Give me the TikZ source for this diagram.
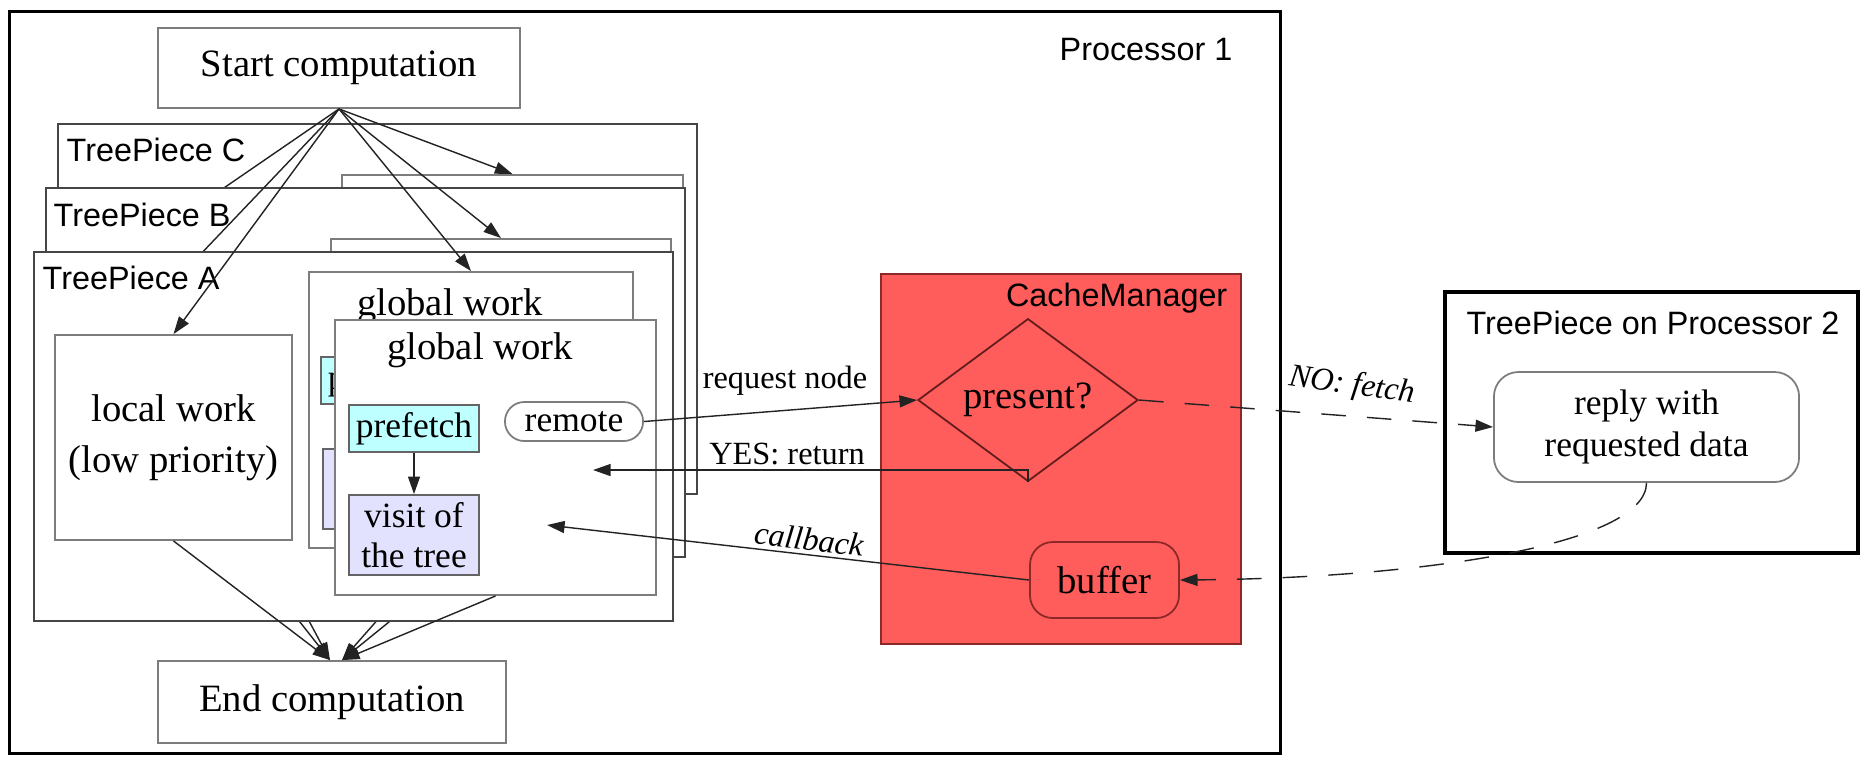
\documentclass[tikz,border=0pt]{standalone}
\usepackage{fontspec}
\setmainfont{Liberation Serif}
\newfontfamily\labelsans{Liberation Sans}
\usetikzlibrary{arrows.meta,shapes.geometric,calc}
\definecolor{cmred}{RGB}{255,92,92}
\definecolor{cmborder}{RGB}{140,40,40}
\definecolor{prefill}{RGB}{190,255,255}
\definecolor{visitfill}{RGB}{226,226,255}
\definecolor{boxgray}{RGB}{125,125,125}
\definecolor{tpgray}{RGB}{70,70,70}
\definecolor{linegray}{RGB}{35,35,35}
\begin{document}
\begin{tikzpicture}[x=0.01cm,y=-0.01cm,
  sz/.style 2 args={minimum width=#1cm, minimum height=#2cm},
  plainbox/.style={draw=boxgray, line width=0.5pt, fill=white, inner sep=0pt},
  tpbox/.style={draw=tpgray, line width=0.65pt, fill=white, inner sep=0pt},
  procbox/.style={draw=black, line width=0.95pt, inner sep=0pt},
  prefetchbox/.style={draw=boxgray!80!black, line width=0.5pt, fill=prefill, inner sep=0pt},
  visitbox/.style={draw=boxgray!80!black, line width=0.5pt, fill=visitfill, inner sep=0pt},
  remotebox/.style={draw=boxgray, line width=0.5pt, fill=white, inner sep=0pt, rounded corners=5.5pt},
  replybox/.style={draw=boxgray, line width=0.5pt, fill=white, inner sep=0pt, rounded corners=7pt},
  bufferbox/.style={draw=cmborder, line width=0.5pt, inner sep=0pt, rounded corners=6.5pt},
  conn/.style={draw=linegray, line width=0.4pt, -{Triangle[length=5pt,width=3.4pt]}},
  dashconn/.style={conn, dash pattern=on 7pt off 6pt},
  sanslabel/.style={font=\labelsans\fontsize{9.2}{11}\selectfont, inner sep=0pt},
  bigtext/.style={font=\fontsize{11}{13}\selectfont},
  smalltext/.style={font=\fontsize{10.1}{11.2}\selectfont},
  edgelabel/.style={font=\fontsize{9.2}{11}\selectfont, inner sep=0pt},
]
\useasboundingbox (0,0) rectangle (1861,756);

% Processor 1
\node[procbox, sz={12.70}{7.41}] (proc1) at (645,382.5) {};
\node[sanslabel, anchor=east] (proc1label) at (1233,50) {Processor 1};

% start / end
\node[plainbox, bigtext, sz={3.62}{0.80}] (start) at (339,68) {Start computation};
\node[plainbox, bigtext, sz={3.48}{0.82}] (end) at (332,702) {End computation};
\coordinate (endL) at ($(end.north)+(-2,0)$);
\coordinate (endR) at ($(end.north)+(10,0)$);

% TreePiece C
\node[tpbox, sz={6.39}{3.70}] (tpC) at (377.5,309) {};
\node[sanslabel, anchor=west] (tpClabel) at (66,150) {TreePiece C};
\node[plainbox, sz={2.37}{2.05}] (localC) at (197.5,309.5) {};
\node[plainbox, sz={3.41}{2.91}] (globalC) at (512.5,320.5) {};
\draw[conn] (start.south) -- (localC.north);
\draw[conn] (start.south) -- (globalC.north);
\draw[conn] (localC.south) -- (endL);
\draw[conn] (globalC.south) -- (endR);

% TreePiece B
\node[tpbox, sz={6.39}{3.69}] (tpB) at (365.5,372.5) {};
\node[sanslabel, anchor=west] (tpBlabel) at (53,215) {TreePiece B};
\node[plainbox, sz={2.37}{2.05}] (localB) at (185.5,373.5) {};
\node[plainbox, sz={3.40}{2.91}] (globalB) at (501,384.5) {};
\draw[conn] (start.south) -- (localB.north);
\draw[conn] (start.south) -- (globalB.north);
\draw[conn] (localB.south) -- (endL);
\draw[conn] (globalB.south) -- (endR);

% TreePiece A
\node[tpbox, sz={6.39}{3.69}] (tpA) at (353.5,436.5) {};
\node[sanslabel, anchor=west] (tpAlabel) at (42,278) {TreePiece A};
\node[plainbox, bigtext, align=center, sz={2.37}{2.05}] (localA) at (173.5,437.5) {local work\\[1.5pt](low priority)};
\node[plainbox, sz={3.24}{2.76}] (globalAback) at (471,410) {};
\node[bigtext] (globalAbacklabel) at (450,306) {global work};
\node[prefetchbox, smalltext, sz={1.30}{0.47}] (prefAback) at (386,380.5) {prefetch};
\node[visitbox, sz={1.30}{0.80}] (visitAback) at (388,489) {};
\node[plainbox, sz={3.21}{2.75}] (globalA) at (495.5,457.5) {};
\node[bigtext] (globalAlabel) at (480,350) {global work};
\node[prefetchbox, smalltext, sz={1.30}{0.47}] (prefA) at (414,428.5) {prefetch};
\node[visitbox, smalltext, align=center, sz={1.30}{0.80}] (visitA) at (414,535) {visit of\\the tree};
\node[remotebox, smalltext, sz={1.38}{0.39}] (remote) at (574,421.5) {remote};
\draw[conn] (prefA) -- (visitA);
\draw[conn] (start.south) -- (localA.north);
\draw[conn] (start.south) -- (globalAback.north);
\draw[conn] (localA.south) -- (endL);
\draw[conn] (globalA.south) -- (endR);

% CacheManager
\node[draw=cmborder, fill=cmred, line width=0.5pt, inner sep=0pt, sz={3.60}{3.70}] (cache) at (1061,459) {};
\node[sanslabel, anchor=east] (cachelabel) at (1228,298) {CacheManager};
\node[diamond, draw=cmborder!70!black, line width=0.5pt, minimum width=2.2cm, minimum height=1.1cm, inner sep=0pt, bigtext] (present) at (1028,400) {present?};
\node[bufferbox, bigtext, sz={1.49}{0.76}] (buffer) at (1104.5,580) {buffer};

% Processor 2
\node[procbox, sz={4.13}{2.61}] (proc2) at (1651.5,422.5) {};
\node[sanslabel] (proc2label) at (1653,323) {TreePiece on Processor 2};
\node[replybox, smalltext, align=center, sz={3.05}{1.10}] (reply) at (1646.5,427) {reply with\\[0.5pt]requested data};

% connectors
\draw[conn] (remote.east) -- (present.west);
\node[edgelabel] (reqlabel) at (785,381) {request node};
\coordinate (yesTip) at (593,470);
\draw[conn] (present.south) |- (yesTip);
\node[edgelabel] (yeslabel) at (787,454) {YES: return};
\coordinate (cbTip) at (547,525);
\draw[conn] (buffer.west) -- (cbTip);
\node[edgelabel, font=\fontsize{9.2}{11}\selectfont\itshape, rotate=-6.7] (cblabel) at (809,539) {callback};
\draw[dashconn] (present.east) -- (reply.west);
\node[edgelabel, font=\fontsize{9.2}{11}\selectfont\itshape, rotate=-8] (nolabel) at (1352,386) {NO: fetch};
\draw[dashconn] (reply.south) .. controls (1646,545) and (1420,578) .. (buffer.east);
\end{tikzpicture}
\end{document}
